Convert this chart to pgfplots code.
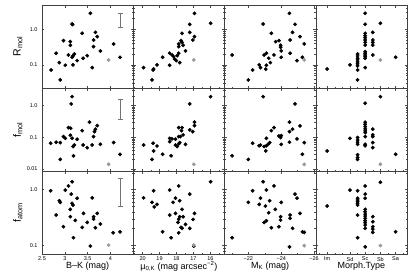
\documentclass[border=0pt]{standalone}
\usepackage{fontspec}
\setmainfont{Liberation Sans}
\usepackage{pgfplots}
\pgfplotsset{compat=1.18}
\pgfplotsset{
 panel/.style={
  scale only axis, width=91.25pt, height=83pt, anchor=north west,
  axis line style={black!75, line width=0.5pt},
  tick align=inside, xtick pos=both, ytick pos=both,
  major tick length=2.5pt, minor tick length=1.3pt,
  tick style={black!70, line width=0.4pt},
  tick label style={font=\fontsize{5.5}{6}\selectfont},
  yticklabel style={xshift=-1pt},
  xticklabel style={yshift=0.5pt},
  xlabel style={font=\fontsize{9}{10}\selectfont, at={(axis description cs:0.5,-0.15)}, anchor=center},
  ylabel style={font=\fontsize{10.5}{12}\selectfont, at={(axis description cs:-0.264,0.5)}, anchor=center},
 },
 colA/.style={xmin=2.5,xmax=4.5,xtick={2.5,3,3.5,4},xticklabels={2.5,3,3.5,4}},
 colB/.style={x dir=reverse,xmin=15.17,xmax=20.55,xtick={16,17,18,19,20},xticklabels={16,17,18,19,20},minor xtick={15.5,16.5,17.5,18.5,19.5,20.5}},
 colC/.style={x dir=reverse,xmin=-26.1,xmax=-20.55,xtick={-26,-24,-22},xticklabels={−26,−24,−22},minor xtick={-25,-23,-21}},
 colD/.style={x dir=reverse,xmin=-0.5,xmax=11.5,xtick={1,3,5,7,10},xticklabels={Sa,Sb,Sc,Sd,Im},minor xtick={0,2,4,6,8,9,11}},
 rowA/.style={ymin=0.0225,ymax=4.8,ytick={0.1,1},yticklabels={0.1,1.0},
   minor ytick={0.03,0.04,0.05,0.06,0.07,0.08,0.09,0.2,0.3,0.4,0.5,0.6,0.7,0.8,0.9,2,3,4}},
 rowB/.style={ymin=0.0086,ymax=3.6,ytick={0.01,0.1,1},yticklabels={0.01,0.1,1.0},
   minor ytick={0.02,0.03,0.04,0.05,0.06,0.07,0.08,0.09,0.2,0.3,0.4,0.5,0.6,0.7,0.8,0.9,2,3}},
 rowC/.style={ymin=0.07,ymax=2.15,ytick={0.1,1},yticklabels={0.1,1.0},
   minor ytick={0.08,0.09,0.2,0.3,0.4,0.5,0.6,0.7,0.8,0.9,2}},
 noxl/.style={xticklabels={}},
 noyl/.style={yticklabels={}},
 datpt/.style={only marks, mark=*, mark size=1.7pt, black},
 graypt/.style={only marks, mark=*, mark size=1.7pt, black!40},
 errbar/.style={black!55, line width=0.5pt, mark=-, mark size=2.2pt, mark options={solid}},
}
\begin{document}
\begin{tikzpicture}
% ---------- row 1: R_mol
\begin{axis}[ymode=log,panel,colA,rowA,noxl,at={(0pt,0pt)},ylabel={R\textsubscript{mol}}]
\addplot[errbar] coordinates {(4.22,2.81) (4.22,1.14)};
\addplot[datpt] coordinates {(3.56,2.81) (3.16,1.41) (3.17,1.36) (3.38,0.77) (3.67,0.82) (3.71,0.62) (2.97,0.48) (3.12,0.45) (3.63,0.50) (3.12,0.356) (4.07,0.388) (3.63,0.326) (3.78,0.247) (2.81,0.213) (3.08,0.19) (3.21,0.203) (3.18,0.179) (3.16,0.164) (3.49,0.182) (3.40,0.154) (3.27,0.132) (2.88,0.116) (3.01,0.098) (3.18,0.10) (4.21,0.164) (3.60,0.084) (2.70,0.072) (2.90,0.038)};
\addplot[graypt] coordinates {(3.96,0.138)};
\end{axis}
\begin{axis}[ymode=log,panel,colB,rowA,noxl,noyl,at={(91.25pt,0pt)}]
\addplot[datpt] coordinates {(16.94,2.81) (15.99,1.47) (17.22,1.38) (17.22,0.82) (16.94,0.62) (17.04,0.50) (17.67,0.77) (17.73,0.48) (17.67,0.43) (17.87,0.39) (17.61,0.356) (17.87,0.326) (17.47,0.247) (17.87,0.213) (18.40,0.213) (18.26,0.19) (18.17,0.171) (17.96,0.182) (18.11,0.147) (18.01,0.132) (17.81,0.116) (18.82,0.164) (18.40,0.098) (19.15,0.10) (19.35,0.077) (19.38,0.072) (19.94,0.084) (19.44,0.038)};
\addplot[graypt] coordinates {(16.98,0.138)};
\end{axis}
\begin{axis}[ymode=log,panel,colC,rowA,noxl,noyl,at={(182.5pt,0pt)}]
\addplot[datpt] coordinates {(-24.50,2.81) (-22.90,1.41) (-24.84,1.38) (-23.40,0.77) (-24.69,0.82) (-25.14,0.62) (-24.54,0.50) (-23.66,0.45) (-23.86,0.48) (-25.40,0.39) (-23.96,0.356) (-23.96,0.313) (-24.0,0.247) (-21.01,0.19) (-23.10,0.213) (-22.96,0.19) (-23.24,0.154) (-23.56,0.19) (-24.0,0.164) (-24.54,0.213) (-23.34,0.116) (-23.10,0.098) (-22.66,0.10) (-22.74,0.084) (-23.06,0.076) (-22.26,0.072) (-22.0,0.038) (-24.96,0.132) (-25.29,0.164)};
\addplot[graypt] coordinates {(-25.40,0.138)};
\end{axis}
\begin{axis}[ymode=log,panel,colD,rowA,noxl,noyl,at={(273.75pt,0pt)}]
\addplot[datpt] coordinates {(10,0.077) (7,0.10) (6,0.203) (6,0.179) (6,0.154) (6,0.138) (6,0.121) (6,0.107) (6,0.094) (6,0.072) (6,0.038) (5,2.81) (5,1.38) (5,0.77) (5,0.66) (5,0.58) (5,0.50) (5,0.43) (5,0.36) (5,0.236) (5,0.213) (5,0.19) (5,0.171) (5,0.154) (5,0.084) (4,0.82) (4,0.50) (4,0.43) (4,0.36) (4,0.19) (3,1.47) (1,0.164)};
\addplot[graypt] coordinates {(3,0.138)};
\end{axis}
% ---------- row 2: f_mol
\begin{axis}[ymode=log,panel,colA,rowB,noxl,at={(0pt,-83pt)},ylabel={f\textsubscript{mol}}]
\addplot[errbar] coordinates {(4.22,1.63) (4.22,0.372)};
\addplot[datpt] coordinates {(3.16,1.92) (3.14,1.13) (3.54,0.30) (3.71,0.233) (3.08,0.202) (3.13,0.193) (3.67,0.18) (3.65,0.151) (3.38,0.162) (2.97,0.105) (3.12,0.116) (3.01,0.093) (3.16,0.093) (3.27,0.087) (3.63,0.105) (2.81,0.070) (2.90,0.068) (2.69,0.065) (3.21,0.057) (3.18,0.051) (3.40,0.057) (3.49,0.047) (3.60,0.057) (3.78,0.060) (4.07,0.068) (2.90,0.020) (3.19,0.026) (4.21,0.029)};
\addplot[graypt] coordinates {(3.96,0.014)};
\end{axis}
\begin{axis}[ymode=log,panel,colB,rowB,noxl,noyl,at={(91.25pt,-83pt)}]
\addplot[datpt] coordinates {(15.99,1.92) (17.22,1.13) (16.94,0.30) (16.94,0.233) (17.22,0.171) (17.04,0.151) (17.87,0.202) (17.67,0.202) (17.71,0.162) (17.61,0.119) (17.77,0.105) (17.87,0.105) (18.40,0.093) (18.26,0.089) (18.06,0.087) (18.40,0.073) (17.81,0.068) (17.87,0.062) (18.06,0.057) (17.96,0.051) (17.47,0.060) (19.94,0.057) (19.38,0.065) (19.15,0.053) (19.35,0.037) (18.82,0.029) (18.32,0.026) (19.44,0.020)};
\addplot[graypt] coordinates {(16.98,0.014)};
\end{axis}
\begin{axis}[ymode=log,panel,colC,rowB,noxl,noyl,at={(182.5pt,-83pt)}]
\addplot[datpt] coordinates {(-22.90,1.92) (-24.84,1.13) (-24.50,0.30) (-24.69,0.18) (-25.14,0.228) (-23.40,0.162) (-23.56,0.202) (-24.50,0.151) (-23.86,0.110) (-23.96,0.098) (-24.0,0.113) (-23.10,0.093) (-24.96,0.089) (-23.30,0.068) (-23.20,0.060) (-23.10,0.054) (-22.66,0.054) (-22.26,0.065) (-22.74,0.057) (-22.96,0.051) (-23.06,0.037) (-24.0,0.060) (-24.50,0.070) (-25.40,0.068) (-21.01,0.026) (-22.0,0.020) (-25.29,0.029)};
\addplot[graypt] coordinates {(-25.40,0.014)};
\end{axis}
\begin{axis}[ymode=log,panel,colD,rowB,noxl,noyl,at={(273.75pt,-83pt)}]
\addplot[datpt] coordinates {(10,0.037) (7,0.093) (6,0.098) (6,0.082) (6,0.070) (6,0.060) (6,0.028) (6,0.023) (6,0.020) (5,1.19) (5,0.30) (5,0.258) (5,0.217) (5,0.184) (5,0.159) (5,0.14) (5,0.105) (5,0.060) (5,0.054) (4,0.18) (4,0.119) (4,0.105) (4,0.068) (4,0.047) (3,1.92) (1,0.029)};
\addplot[graypt] coordinates {(3,0.014)};
\end{axis}
% ---------- row 3: f_atom
\begin{axis}[ymode=log,panel,colA,rowC,at={(0pt,-166pt)},ylabel={f\textsubscript{atom}},xlabel={B–K (mag)}]
\addplot[errbar] coordinates {(4.22,1.59) (4.22,0.51)};
\addplot[datpt] coordinates {(3.16,1.38) (3.08,1.16) (3.01,0.98) (2.69,0.95) (3.14,0.83) (3.27,0.70) (3.60,0.71) (2.88,0.63) (2.90,0.59) (3.16,0.566) (3.18,0.527) (3.12,0.442) (3.41,0.375) (3.71,0.375) (2.81,0.349) (3.12,0.326) (3.63,0.326) (3.63,0.296) (3.23,0.28) (3.49,0.258) (3.78,0.241) (2.97,0.216) (3.38,0.21) (3.67,0.207) (4.06,0.168) (4.21,0.175) (3.19,0.137) (3.56,0.097)};
\addplot[graypt] coordinates {(3.96,0.101)};
\end{axis}
\begin{axis}[ymode=log,panel,colB,rowC,noyl,at={(91.25pt,-166pt)},xlabel={μ\textsubscript{0,K} (mag arcsec\textsuperscript{−2})}]
\addplot[datpt] coordinates {(15.99,1.38) (17.87,1.16) (18.40,0.98) (19.35,0.95) (17.22,0.83) (18.06,0.70) (17.81,0.63) (19.94,0.71) (19.44,0.59) (18.20,0.59) (19.31,0.49) (19.15,0.543) (17.67,0.442) (16.94,0.375) (18.06,0.375) (18.40,0.349) (17.61,0.326) (17.81,0.326) (17.02,0.292) (17.87,0.296) (17.91,0.258) (17.47,0.238) (17.73,0.21) (17.67,0.202) (17.22,0.202) (18.82,0.175) (17.87,0.168) (18.32,0.137) (16.98,0.097)};
\addplot[graypt] coordinates {(16.98,0.101)};
\end{axis}
\begin{axis}[ymode=log,panel,colC,rowC,noyl,at={(182.5pt,-166pt)},xlabel={M\textsubscript{K} (mag)}]
\addplot[datpt] coordinates {(-22.90,1.38) (-23.56,1.16) (-22.26,0.95) (-23.10,0.98) (-24.84,0.83) (-22.74,0.70) (-24.96,0.70) (-23.30,0.63) (-22.0,0.59) (-22.66,0.543) (-24.0,0.59) (-23.04,0.506) (-23.64,0.442) (-23.24,0.384) (-23.96,0.326) (-24.54,0.349) (-24.54,0.305) (-25.14,0.375) (-23.96,0.284) (-23.10,0.276) (-22.96,0.258) (-23.86,0.216) (-23.40,0.207) (-24.69,0.202) (-25.29,0.175) (-25.40,0.171) (-21.01,0.137) (-24.50,0.094)};
\addplot[graypt] coordinates {(-25.40,0.099)};
\end{axis}
\begin{axis}[ymode=log,panel,colD,rowC,noyl,at={(273.75pt,-166pt)},xlabel={Morph.Type}]
\addplot[datpt] coordinates {(10,0.506) (7,0.98) (6,0.95) (6,0.70) (6,0.65) (6,0.605) (6,0.566) (6,0.527) (6,0.349) (6,0.137) (5,1.16) (5,0.83) (5,0.70) (5,0.442) (5,0.40) (5,0.364) (5,0.335) (5,0.305) (5,0.276) (5,0.254) (5,0.231) (5,0.202) (5,0.094) (4,0.326) (4,0.265) (4,0.216) (4,0.196) (4,0.171) (3,1.35) (1,0.175)};
\addplot[graypt] coordinates {(3,0.099)};
\end{axis}
\pgfresetboundingbox
\path[use as bounding box] (-42pt,5pt) rectangle (373pt,-272pt);
\end{tikzpicture}
\end{document}
